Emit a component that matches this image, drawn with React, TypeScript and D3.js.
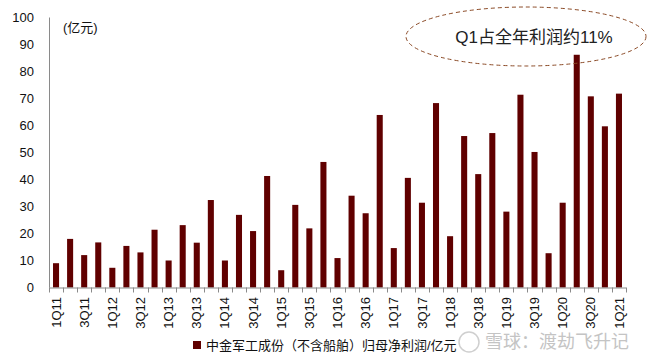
import { useEffect, useRef } from 'react';
import * as d3 from 'd3';

const quarters = [
  '1Q11', '2Q11', '3Q11', '4Q11', '1Q12', '2Q12', '3Q12', '4Q12',
  '1Q13', '2Q13', '3Q13', '4Q13', '1Q14', '2Q14', '3Q14', '4Q14',
  '1Q15', '2Q15', '3Q15', '4Q15', '1Q16', '2Q16', '3Q16', '4Q16',
  '1Q17', '2Q17', '3Q17', '4Q17', '1Q18', '2Q18', '3Q18', '4Q18',
  '1Q19', '2Q19', '3Q19', '4Q19', '1Q20', '2Q20', '3Q20', '4Q20',
  '1Q21',
];

// 归母净利润（亿元）
const profit = [
  9.0, 18.0, 12.0, 16.7, 7.3, 15.4, 13.0, 21.4,
  10.0, 23.1, 16.6, 32.4, 10.0, 26.9, 20.9, 41.3,
  6.4, 30.6, 21.9, 46.5, 10.9, 34.0, 27.5, 63.9,
  14.6, 40.6, 31.4, 68.3, 19.0, 56.1, 42.0, 57.2,
  28.1, 71.4, 50.2, 12.7, 31.4, 86.2, 70.8, 59.7,
  71.8,
];

const yTicks = [0, 10, 20, 30, 40, 50, 60, 70, 80, 90, 100];

const W = 658;
const H = 361;
const FONT = '"Liberation Sans", Arial, "Noto Sans CJK SC", sans-serif';
const BAR = '#600000';
const AXIS = '#8a8a8a';

export default function App() {
  const ref = useRef<SVGSVGElement>(null);

  useEffect(() => {
    const svg = d3.select(ref.current);
    svg.selectAll('*').remove();

    const x = d3.scaleBand<string>()
      .domain(quarters)
      .range([49, 626])
      .paddingInner(0.57)
      .paddingOuter(0.285);
    const y = d3.scaleLinear().domain([0, 100]).range([287.5, 17.5]);

    // bars
    svg.append('g')
      .selectAll('rect')
      .data(profit)
      .join('rect')
      .attr('x', (_, i) => x(quarters[i])!)
      .attr('y', d => y(d))
      .attr('width', x.bandwidth())
      .attr('height', d => y(0) - y(d))
      .attr('fill', BAR);

    // y axis
    svg.append('line')
      .attr('x1', 49.5).attr('x2', 49.5)
      .attr('y1', y(100)).attr('y2', y(0))
      .attr('stroke', AXIS);

    svg.append('g')
      .selectAll('text')
      .data(yTicks)
      .join('text')
      .attr('x', 34)
      .attr('y', d => y(d))
      .attr('dy', '0.35em')
      .attr('text-anchor', 'end')
      .attr('font-family', FONT)
      .attr('font-size', 13)
      .attr('fill', '#111')
      .text(d => d);

    // x axis with a tick at every band boundary
    svg.append('line')
      .attr('x1', 49).attr('x2', 626)
      .attr('y1', y(0) + 0.5).attr('y2', y(0) + 0.5)
      .attr('stroke', AXIS);

    const bounds = d3.range(quarters.length + 1).map(i => x.range()[0] + i * x.step());
    svg.append('g')
      .selectAll('line')
      .data(bounds)
      .join('line')
      .attr('x1', d => Math.round(d) + 0.5)
      .attr('x2', d => Math.round(d) + 0.5)
      .attr('y1', y(0))
      .attr('y2', y(0) + 5)
      .attr('stroke', AXIS);

    svg.append('g')
      .selectAll('text')
      .data(quarters.filter((_, i) => i % 2 === 0))
      .join('text')
      .attr('transform', d => `translate(${x(d)! + x.bandwidth() / 2},297) rotate(-90)`)
      .attr('dy', '0.35em')
      .attr('text-anchor', 'end')
      .attr('font-family', FONT)
      .attr('font-size', 13)
      .attr('fill', '#111')
      .text(d => d);

    // unit
    svg.append('text')
      .attr('x', 63).attr('y', 32)
      .attr('font-family', FONT)
      .attr('font-size', 13)
      .attr('fill', '#111')
      .text('(亿元)');

    // annotation
    svg.append('ellipse')
      .attr('cx', 526).attr('cy', 36.5)
      .attr('rx', 120).attr('ry', 29.5)
      .attr('fill', 'none')
      .attr('stroke', '#8b4a26')
      .attr('stroke-dasharray', '4,3');
    svg.append('text')
      .attr('x', 534).attr('y', 37)
      .attr('dy', '0.35em')
      .attr('text-anchor', 'middle')
      .attr('font-family', FONT)
      .attr('font-size', 17)
      .attr('fill', '#222')
      .text('Q1占全年利润约11%');

    // legend
    svg.append('rect')
      .attr('x', 193).attr('y', 341)
      .attr('width', 8).attr('height', 8)
      .attr('fill', BAR);
    svg.append('text')
      .attr('x', 206).attr('y', 345)
      .attr('dy', '0.35em')
      .attr('font-family', FONT)
      .attr('font-size', 13)
      .attr('fill', '#111')
      .text('中金军工成份（不含船舶）归母净利润/亿元');

    // watermark
    svg.append('circle')
      .attr('cx', 469).attr('cy', 342)
      .attr('r', 10)
      .attr('fill', 'none')
      .attr('stroke', '#cfcfcf')
      .attr('stroke-width', 1.5);
    svg.append('text')
      .attr('x', 485).attr('y', 342)
      .attr('dy', '0.35em')
      .attr('font-family', FONT)
      .attr('font-size', 18)
      .attr('fill', '#c4c4c4')
      .text('雪球：渡劫飞升记');
  }, []);

  return (
    <svg
      ref={ref}
      width={W}
      height={H}
      style={{ position: 'absolute', left: 0, top: 0, background: '#fff' }}
    />
  );
}
